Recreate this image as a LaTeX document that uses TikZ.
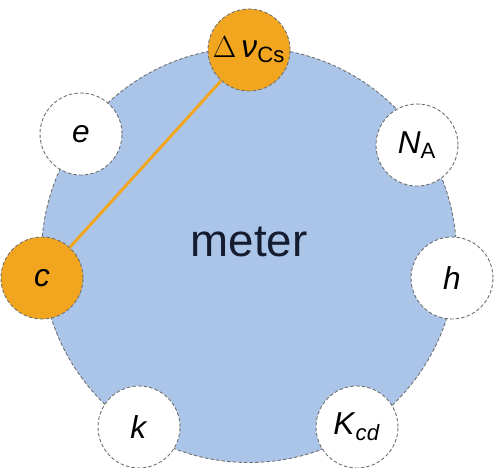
\documentclass[tikz,border=0pt]{standalone}
\usepackage{fontspec}
\setmainfont{Liberation Sans}
\usetikzlibrary{arrows.meta}
\definecolor{meterblue}{RGB}{170,197,232}
\definecolor{cesorange}{RGB}{242,166,32}
\definecolor{ringgray}{RGB}{110,110,110}
\definecolor{textnavy}{RGB}{22,28,48}

\begin{document}
\begin{tikzpicture}[every node/.style={font=\fontsize{18}{20}\selectfont},
  const/.style={draw=ringgray,dash pattern=on 2pt off 1.2pt,line width=0.5pt,circle,fill=white,minimum size=1.64cm,inner sep=0pt},
  defining/.style={const,fill=cesorange}]
\useasboundingbox (0,0) rectangle (9.9,9.34);
\node[draw=ringgray,dash pattern=on 2pt off 1.2pt,line width=0.5pt,circle,fill=meterblue,minimum size=8.3cm] (si) at (4.98,4.24) {};
\node[text=textnavy,font=\fontsize{26}{30}\selectfont] (m) at (4.98,4.5) {meter};
\node[defining] (dnu) at (4.98,8.34) {$\Delta$\,\textit{ν}\textsubscript{Cs}};
\node[const] (e) at (1.62,6.66) {\textit{e}};
\node[const] (na) at (8.34,6.44) {\textit{N}\textsubscript{A}};
\node[defining] (c) at (0.84,3.78) {\textit{c}};
\node[const] (h) at (9.04,3.78) {\textit{h}};
\node[const] (k) at (2.78,0.80) {\textit{k}};
\node[const] (kcd) at (7.14,0.80) {\textit{K}\textsubscript{\textit{cd}}};
\draw[cesorange,line width=1.7pt] (dnu) -- (c);
\end{tikzpicture}
\end{document}
